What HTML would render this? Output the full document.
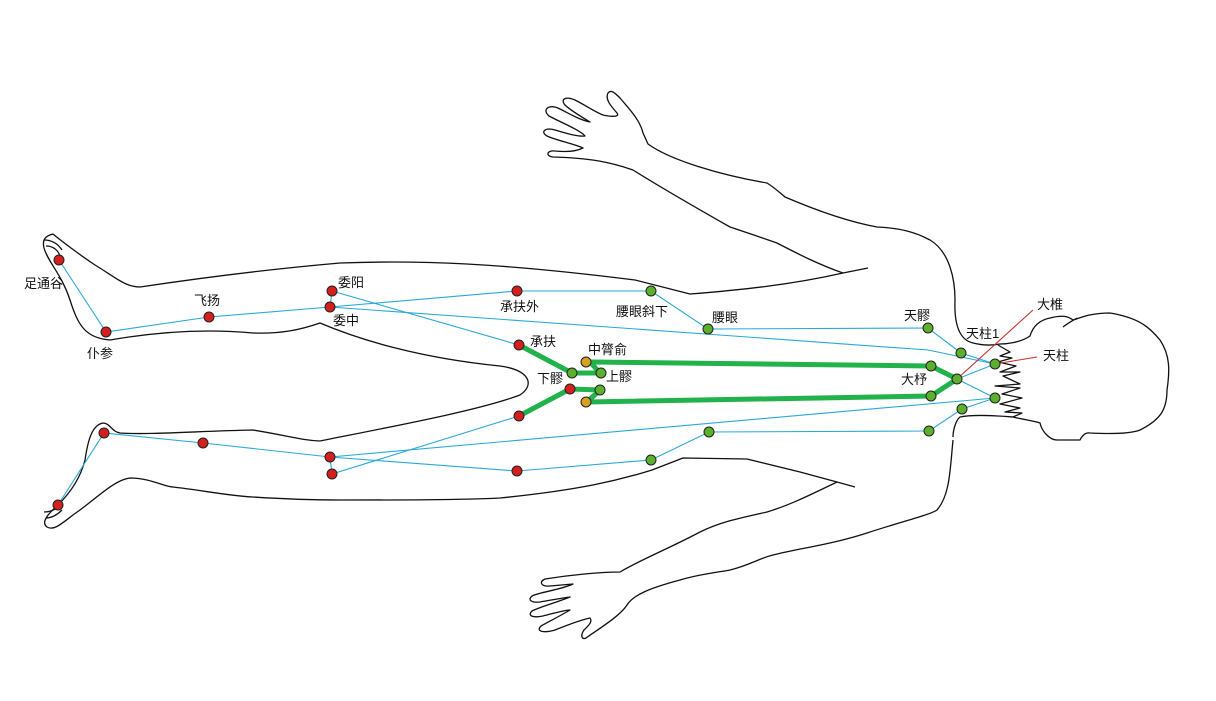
<!DOCTYPE html>
<html><head><meta charset="utf-8"><style>
html,body{margin:0;padding:0;background:#fff;}
svg{display:block;}
text{font-family:"Liberation Sans","Noto Sans CJK SC",sans-serif;font-size:13px;fill:#111;}
</style></head><body>
<svg width="1216" height="701" viewBox="0 0 1216 701" xmlns="http://www.w3.org/2000/svg">
<g fill="none" stroke="#111" stroke-width="1.3" stroke-linejoin="round">
<path d="M53,234 C60,240 80,255 95,265 C115,277 125,287 140,287 C200,278 260,270 340,263 C420,260 500,263 635,280 L690,294 C740,290 790,285 843,273 L868,268"/>
<path d="M53,234 C45,236 42,240 44,248 C48,262 62,275 70,300 C78,325 85,338 110,340 C150,333 200,328 253,333 C280,334 300,330 320,323 C360,340 420,358 500,366 C530,370 535,385 520,395 C480,410 400,425 320,441"/>
<path d="M44,240 C52,240 58,244 62,250 M46,246 C53,246 58,250 60,256"/>
<path d="M320,441 C300,440 290,436 253,430 C200,431 150,435 120,433 C112,432 110,423 103,423 C92,425 88,440 85,460 C80,480 68,495 58,505 C50,512 40,522 47,527 C55,532 65,520 80,510 C100,495 115,480 130,478 C150,478 165,487 173,487 C200,490 230,496 253,497 C300,500 330,500 340,500 C400,500 460,500 500,498 C580,490 620,480 652,470 L683,458 L747,459 L800,472 L837,482 L855,487"/>
<path d="M44,512 C52,512 58,508 62,503 M46,518 C53,518 58,514 62,510"/>
<path d="M843,273 C820,265 800,255 777,243 C760,237 745,232 730,227 C700,210 665,190 633,170 C610,162 590,158 553,157 C545,156 547,150 555,151 C565,152 575,152 583,148 C575,144 555,140 547,136 C540,132 545,127 555,130 C565,133 578,137 585,136 C580,130 560,122 549,116 C542,110 548,104 558,108 C570,114 580,120 590,122 C580,116 570,110 565,105 C560,99 566,96 575,100 C585,105 595,112 603,115 C612,117 620,117 617,113 C610,105 605,99 608,93 C611,89 615,93 620,98 C630,110 640,120 643,133 L648,144 C670,160 720,175 767,183 C775,188 780,193 785,197 C820,212 850,222 877,227 C900,228 915,232 930,240 C950,252 955,280 955,300 C954,325 960,340 973,343 C985,346 995,345 1000,344"/>
<path d="M837,482 C810,495 790,505 767,512 C740,518 720,522 700,532 C670,548 640,560 620,572 C600,572 570,575 545,579 C538,582 542,587 550,586 L573,584 C560,590 540,592 532,596 C527,600 532,603 540,602 C552,600 562,598 570,597 C555,603 540,607 532,611 C527,616 533,618 543,616 C555,613 565,610 570,610 C560,616 548,622 541,626 C535,632 545,633 555,630 C565,626 580,620 590,618 C593,622 588,626 584,630 C580,636 582,640 586,638 C600,628 620,616 627,605 C633,595 650,588 680,580 C700,574 720,572 730,570 C750,565 760,558 773,555 C800,548 830,545 867,533 C900,522 930,515 937,510 C950,495 950,470 953,440"/>
<path d="M953,437 C953,430 956,420 960,417 C975,414 1000,416 1013,417 C1025,420 1035,421 1040,423 C1042,432 1050,440 1057,440 L1080,440 C1082,436 1085,432 1090,433 C1110,434 1130,434 1140,430 C1160,420 1167,410 1167,390 C1170,370 1170,355 1160,340 C1150,328 1140,318 1110,313 C1090,313 1080,318 1073,320 C1068,316 1062,315 1050,318 C1040,320 1033,326 1030,336 C1020,343 1005,344 1000,344"/>
<path d="M1063,327 C1068,323 1072,321 1077,318"/>
<path d="M998,345 L1010,352 L1000,356 L1012,358 L998,362 L1016,366 L1000,372 L1020,372 L1003,376 L1020,384 L995,386 L1020,388 L1002,394 L1022,398 L1000,404 L1020,408 L1005,412 L1022,413 L1013,417"/>
</g>
<g fill="none" stroke="#29a9d6" stroke-width="1.1">
<polyline points="59,260 106,332 209,317 330,307 517,291 651,291 708,329 928,328 961,353 995,364"/>
<polyline points="330,307 928,350 995,364"/>
<polyline points="332,291 330,307"/>
<polyline points="332,291 519,345 572,373 601,373"/>
<polyline points="58,505 104,433 203,443 330,457 995,398"/>
<polyline points="330,457 332,474 519,416 570,389"/>
<polyline points="330,457 517,471 651,460 709,432 929,431 962,409 995,398"/>
<polyline points="995,364 957,379 995,398"/>
</g>
<g stroke="#c8302a" stroke-width="1.1">
<line x1="957" y1="379" x2="1033" y2="310"/>
<line x1="995" y1="364" x2="1037" y2="357"/>
</g>
<polyline fill="none" stroke="#21b24b" stroke-width="5" stroke-linejoin="round" points="519,345 572,373 600,373 590,362 931,366 957,379 931,396 587,402 600,390 570,389 519,416"/>
<g stroke="#222" stroke-width="1">
<g fill="#d51f1f">
<circle cx="59" cy="260" r="5"/><circle cx="106" cy="332" r="5"/><circle cx="209" cy="317" r="5"/>
<circle cx="332" cy="291" r="5"/><circle cx="330" cy="307" r="5"/><circle cx="517" cy="291" r="5"/>
<circle cx="519" cy="345" r="5"/><circle cx="570" cy="389" r="5"/><circle cx="519" cy="416" r="5"/>
<circle cx="104" cy="433" r="5"/><circle cx="203" cy="443" r="5"/><circle cx="330" cy="457" r="5"/>
<circle cx="332" cy="474" r="5"/><circle cx="517" cy="471" r="5"/><circle cx="58" cy="505" r="5"/>
</g>
<g fill="#5bb02e">
<circle cx="651" cy="291" r="5"/><circle cx="708" cy="329" r="5"/><circle cx="928" cy="328" r="5"/>
<circle cx="961" cy="353" r="5"/><circle cx="995" cy="364" r="5"/><circle cx="957" cy="379" r="5"/>
<circle cx="931" cy="366" r="5"/><circle cx="931" cy="396" r="5"/><circle cx="995" cy="398" r="5"/>
<circle cx="962" cy="409" r="5"/><circle cx="929" cy="431" r="5"/><circle cx="709" cy="432" r="5"/>
<circle cx="651" cy="460" r="5"/><circle cx="572" cy="373" r="5"/><circle cx="601" cy="373" r="5"/>
<circle cx="600" cy="390" r="5"/>
</g>
<g fill="#d8a020">
<circle cx="586" cy="362" r="5"/><circle cx="586" cy="402" r="5"/>
</g>
</g>
<text x="24" y="288">足通谷</text>
<text x="87" y="358">仆参</text>
<text x="194" y="305">飞扬</text>
<text x="338" y="287">委阳</text>
<text x="333" y="325">委中</text>
<text x="500" y="311">承扶外</text>
<text x="616" y="316">腰眼斜下</text>
<text x="712" y="322">腰眼</text>
<text x="904" y="320">天髎</text>
<text x="966" y="338">天柱1</text>
<text x="1037" y="309">大椎</text>
<text x="1043" y="360">天柱</text>
<text x="901" y="384">大杼</text>
<text x="530" y="346">承扶</text>
<text x="588" y="354">中膂俞</text>
<text x="537" y="383">下髎</text>
<text x="606" y="381">上髎</text>
</svg>
</body></html>
